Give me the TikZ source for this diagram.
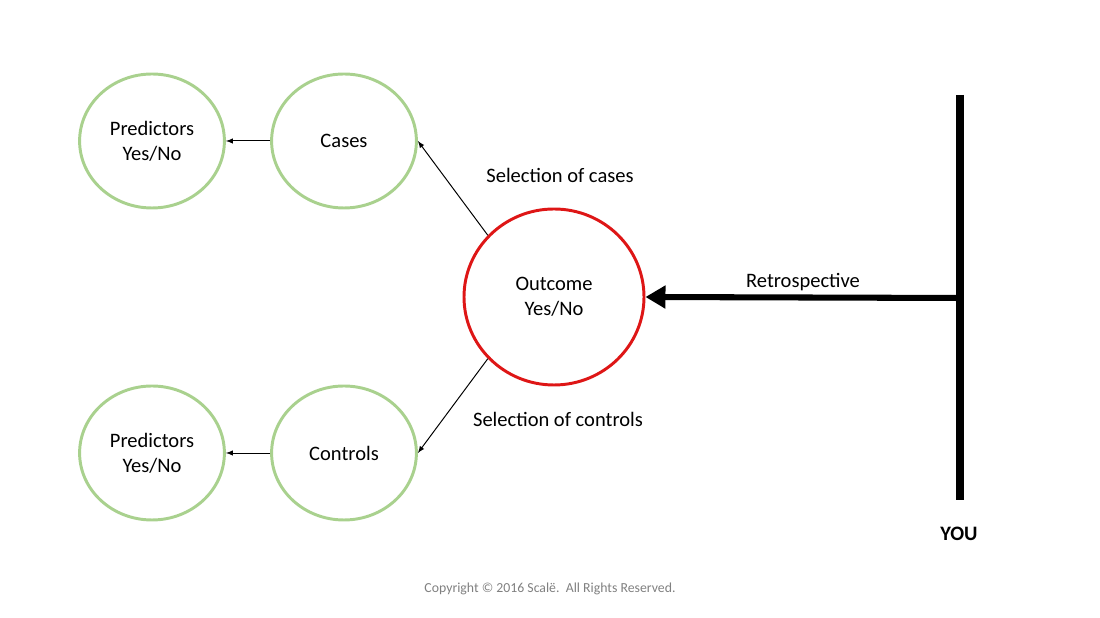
\documentclass[tikz,border=0pt]{standalone}
\usepackage{fontspec}
\setmainfont{Carlito}
\usetikzlibrary{calc, positioning, arrows, arrows.meta, shapes}
\definecolor{grn}{RGB}{169,209,142}
\definecolor{outred}{RGB}{222,22,22}
\definecolor{cpgray}{RGB}{128,128,128}

\begin{document}
\begin{tikzpicture}[grp/.style={ellipse, draw=grn, line width=2.1pt, minimum width=3.62cm, minimum height=3.35cm, align=center, font=\fontsize{14.6}{17.7}\selectfont},outc/.style={ellipse, draw=outred, line width=2.1pt, minimum width=4.5cm, minimum height=4.4cm, align=center, font=\fontsize{14.6}{17.7}\selectfont},lbl/.style={font=\fontsize{14.6}{17.7}\selectfont},sel/.style={-latex, line width=0.7pt}]
  \useasboundingbox (0,0) rectangle (27.5,15.45);

  \node[grp] (pred1) at (3.8,11.925) {Predictors\\Yes/No};
  \node[grp] (cases) at (8.6,11.925) {Cases};
  \node[grp] (pred2) at (3.8,4.125) {Predictors\\Yes/No};
  \node[grp] (ctrls) at (8.6,4.125) {Controls};
  \node[outc] (outc) at (13.85,8.025) {Outcome\\Yes/No};

  \coordinate (ytop) at (24,13.075);
  \coordinate (ybot) at (24,2.95);
  \coordinate (ymid) at (24,8.0);

  \node[lbl] (selcases) at (14.0,11.075) {Selection of cases};
  \node[lbl] (selctrls) at (13.95,4.975) {Selection of controls};
  \node[lbl] (retro) at (20.075,8.4) {Retrospective};
  \node[lbl, font=\fontsize{14.6}{17.7}\selectfont\bfseries] (you) at (23.975,2.1) {YOU};
  \node[font=\fontsize{9.8}{11.5}\selectfont, text=cpgray] (copy) at (13.75,0.725) {Copyright © 2016 Scalë.\ \ All Rights Reserved.};

  \draw[sel] (cases.west) -- (pred1.east);
  \draw[sel] (ctrls.west) -- (pred2.east);
  \draw[sel] (outc.137) -- (cases.east);
  \draw[sel] (outc.223) -- (ctrls.east);

  \draw[line width=5pt] (ytop) -- (ybot);
  \draw[-{Triangle[length=0.5cm,width=0.55cm]}, line width=4.3pt] (ymid) -- (outc.east);
\end{tikzpicture}
\end{document}
